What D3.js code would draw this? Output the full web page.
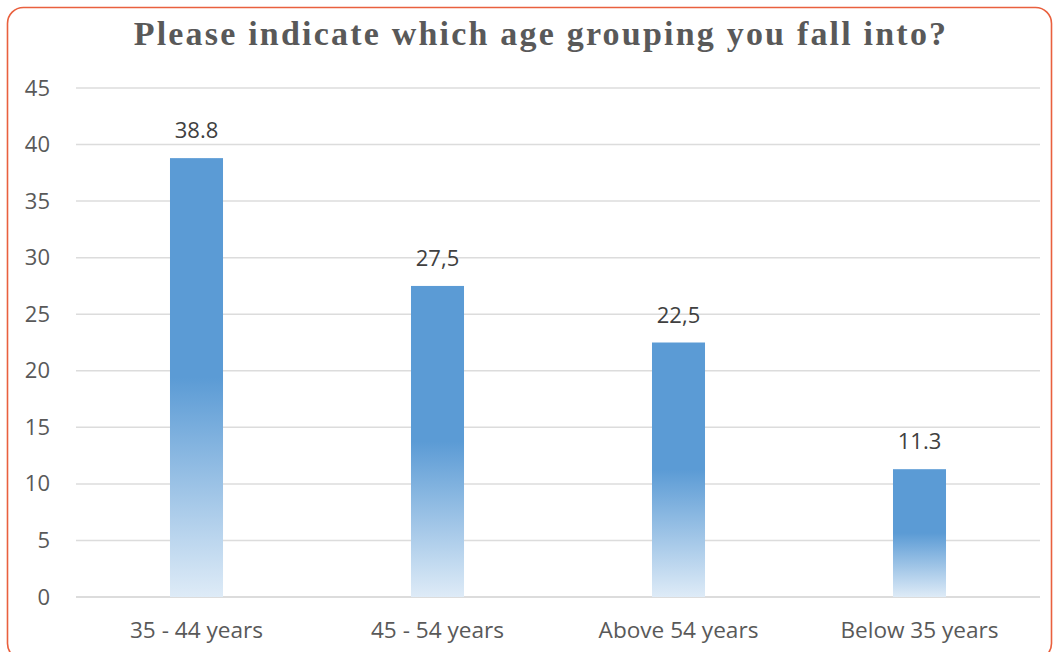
<!DOCTYPE html>
<html>
<head>
<meta charset="utf-8">
<script src="https://cdn.jsdelivr.net/npm/d3@7"></script>
<style>
  html, body { margin: 0; padding: 0; background: #fff; }
  svg { display: block; }
</style>
</head>
<body>
<svg id="chart" width="1054" height="652"></svg>
<script>
// Survey responses by age group (percent of respondents)
const categories = ["35 - 44 years", "45 - 54 years", "Above 54 years", "Below 35 years"];
const values = [38.8, 27.5, 22.5, 11.3];
const valueLabels = ["38.8", "27,5", "22,5", "11.3"];
const yTicks = [0, 5, 10, 15, 20, 25, 30, 35, 40, 45];
const title = "Please indicate which age grouping you fall into?";

const W = 1054, H = 652;
const svg = d3.select("#chart");
const labelFont = "'Open Sans', sans-serif";

// Rounded frame around the whole chart
svg.append("rect")
  .attr("x", 7.5).attr("y", 7.5)
  .attr("width", 1044).attr("height", H)
  .attr("rx", 16).attr("ry", 16)
  .attr("fill", "#fff")
  .attr("stroke", "#E9603E")
  .attr("stroke-width", 1.6);

// Vertical fade used by every bar: solid on top, pale towards the baseline
const defs = svg.append("defs");
const grad = defs.append("linearGradient")
  .attr("id", "barFade")
  .attr("x1", 0).attr("y1", 0).attr("x2", 0).attr("y2", 1);
grad.append("stop").attr("offset", "0").attr("stop-color", "#5B9BD5");
grad.append("stop").attr("offset", "0.5").attr("stop-color", "#5B9BD5");
grad.append("stop").attr("offset", "1").attr("stop-color", "#DEEBF7");

const x = d3.scaleBand()
  .domain(categories)
  .range([76, 1040])
  .paddingInner(0.78)
  .paddingOuter(0.39);

const y = d3.scaleLinear()
  .domain([0, 45])
  .range([597, 88]);

// Horizontal gridlines
svg.append("g")
  .selectAll("line")
  .data(yTicks)
  .join("line")
  .attr("x1", 76).attr("x2", 1040)
  .attr("y1", d => y(d)).attr("y2", d => y(d))
  .attr("stroke", d => d === 0 ? "#D0D0D0" : "#DCDCDC")
  .attr("stroke-width", 1.5);

// Y axis labels
const yAxis = d3.axisLeft(y).tickValues(yTicks).tickSize(0).tickPadding(0);
const yg = svg.append("g")
  .attr("transform", "translate(50,0)")
  .call(yAxis);
yg.select(".domain").remove();
yg.selectAll("text")
  .attr("font-family", labelFont)
  .attr("font-size", 22)
  .attr("fill", "#595959");

// X axis labels
const xAxis = d3.axisBottom(x).tickSize(0).tickPadding(0);
const xg = svg.append("g")
  .attr("transform", "translate(0,638)")
  .call(xAxis);
xg.select(".domain").remove();
xg.selectAll("text")
  .attr("y", 0).attr("dy", null)
  .attr("font-family", labelFont)
  .attr("font-size", 22.6)
  .attr("fill", "#595959");

// Bars
svg.append("g")
  .selectAll("rect")
  .data(values)
  .join("rect")
  .attr("x", (d, i) => x(categories[i]))
  .attr("y", d => y(d))
  .attr("width", x.bandwidth())
  .attr("height", d => y(0) - y(d))
  .attr("fill", "url(#barFade)");

// Value labels above bars
svg.append("g")
  .selectAll("text")
  .data(values)
  .join("text")
  .attr("x", (d, i) => x(categories[i]) + x.bandwidth() / 2)
  .attr("y", d => y(d) - 20)
  .attr("text-anchor", "middle")
  .attr("font-family", labelFont)
  .attr("font-size", 22)
  .attr("fill", "#404040")
  .text((d, i) => valueLabels[i]);

// Title
svg.append("text")
  .attr("x", 541).attr("y", 45)
  .attr("text-anchor", "middle")
  .attr("font-family", "'Liberation Serif', 'Times New Roman', serif")
  .attr("font-weight", "bold")
  .attr("font-size", 34)
  .attr("letter-spacing", 2.2)
  .attr("fill", "#595959")
  .text(title);
</script>
</body>
</html>
